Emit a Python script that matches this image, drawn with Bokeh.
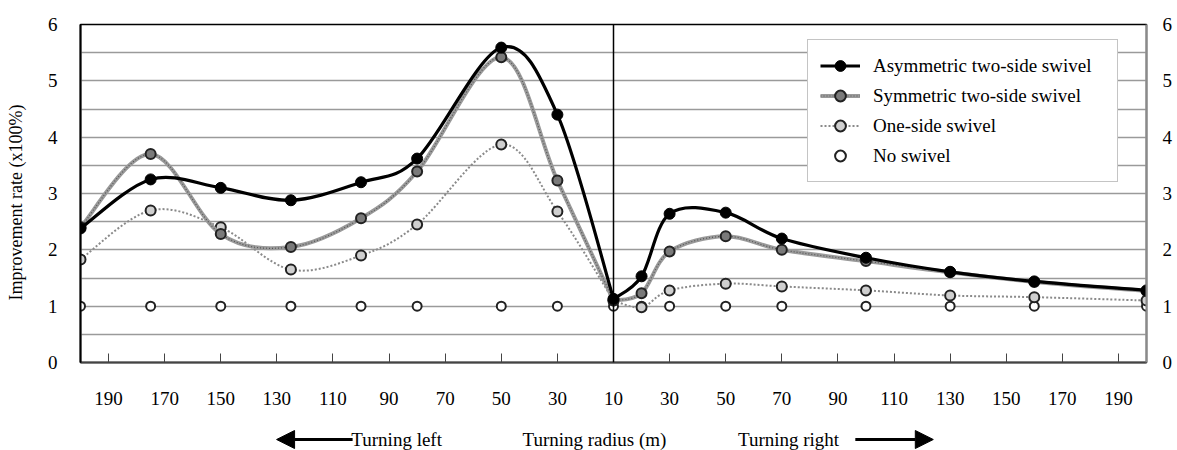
import numpy as np
from bokeh.plotting import figure
from bokeh.layouts import column
from bokeh.models import (Range1d, LinearAxis, FixedTicker, Span, Legend, LegendItem,
                          Arrow, NormalHead)
from bokeh.core.properties import value
from bokeh.embed import file_html
from bokeh.resources import INLINE

# ---------------- data ----------------
# turning radius (m); "L" = turning left, "C" = 10 m (shared), "R" = turning right
radius = [200, 175, 150, 125, 100, 80, 50, 30, 10, 20, 30, 50, 70, 100, 130, 160, 200]
side = ["L"] * 8 + ["C"] + ["R"] * 8

asymmetric = [2.38, 3.25, 3.10, 2.88, 3.20, 3.62, 5.59, 4.40, 1.13,
              1.53, 2.64, 2.66, 2.20, 1.86, 1.61, 1.44, 1.28]
symmetric = [2.40, 3.70, 2.28, 2.05, 2.56, 3.39, 5.42, 3.23, 1.10,
             1.23, 1.97, 2.24, 2.00, 1.80, 1.60, 1.43, 1.27]
one_side = [1.83, 2.70, 2.40, 1.65, 1.90, 2.45, 3.87, 2.68, 1.10,
            0.98, 1.28, 1.40, 1.35, 1.28, 1.19, 1.16, 1.10]
no_swivel = [1.0] * 17

tick_labels_left = [190, 170, 150, 130, 110, 90, 70, 50, 30, 10]
tick_labels_right = [30, 50, 70, 90, 110, 130, 150, 170, 190]
y_ticks = [0, 1, 2, 3, 4, 5, 6]

# ---------------- mapping ----------------
def pos(r, s):
    if s == "L":
        return -(r - 10)
    if s == "R":
        return r - 10
    return 0.0

x = np.array([pos(r, s) for r, s in zip(radius, side)], dtype=float)
centre = side.index("C")

def smooth_part(xs, ys):
    xs = np.asarray(xs, float)
    ys = np.asarray(ys, float)
    n = len(xs)
    xp = np.concatenate([[xs[0]], xs, [xs[-1]]])
    yp = np.concatenate([[ys[0]], ys, [ys[-1]]])
    return dict(x0=xs[:-1], y0=ys[:-1], x1=xs[1:], y1=ys[1:],
                cx0=xs[:-1] + (xp[2:n + 1] - xp[0:n - 1]) / 6.0,
                cy0=ys[:-1] + (yp[2:n + 1] - yp[0:n - 1]) / 6.0,
                cx1=xs[1:] - (xp[3:n + 2] - xp[1:n]) / 6.0,
                cy1=ys[1:] - (yp[3:n + 2] - yp[1:n]) / 6.0)

def smooth_segments(xs, ys):
    ys = np.asarray(ys, float)
    a = smooth_part(xs[:centre + 1], ys[:centre + 1])   # turning left branch
    b = smooth_part(xs[centre:], ys[centre:])           # turning right branch
    return {k: np.concatenate([a[k], b[k]]) for k in a}

FONT = "Liberation Serif"
FS = "19px"

W = 1175
x_range = Range1d(-190, 190)

p = figure(width=W, height=410, output_backend="svg", toolbar_location=None,
           x_range=x_range, y_range=Range1d(0, 6),
           min_border_left=80, min_border_right=29, min_border_top=24, min_border_bottom=48)
p.background_fill_color = "white"
p.border_fill_color = "white"
p.outline_line_color = "black"
p.outline_line_width = 1.5

# grid
p.xgrid.visible = False
p.ygrid.ticker = FixedTicker(ticks=list(np.arange(0.5, 6.0, 0.5)))
p.ygrid.grid_line_color = "#9a9a9a"
p.ygrid.grid_line_width = 1.3

# x axis
tick_pos = [pos(r, "L") for r in tick_labels_left] + [pos(r, "R") for r in tick_labels_right]
tick_txt = [str(r) for r in tick_labels_left] + [str(r) for r in tick_labels_right]
xa = p.xaxis[0]
xa.ticker = FixedTicker(ticks=tick_pos)
xa.major_label_overrides = {t: s for t, s in zip(tick_pos, tick_txt)}
xa.major_tick_in = 9
xa.major_tick_out = 0
xa.major_tick_line_color = "#444444"
xa.major_tick_line_width = 1
xa.minor_tick_line_color = None
xa.axis_line_color = "#444444"
xa.axis_line_width = 2
xa.major_label_standoff = 29
xa.major_label_text_font = FONT
xa.major_label_text_font_size = FS
xa.major_label_text_color = "black"

# y axis (left)
ya = p.yaxis[0]
ya.ticker = FixedTicker(ticks=y_ticks)
ya.major_tick_in = 0
ya.major_tick_out = 0
ya.minor_tick_line_color = None
ya.axis_line_color = "black"
ya.axis_line_width = 2
ya.major_label_standoff = 23
ya.major_label_text_font = FONT
ya.major_label_text_font_size = FS
ya.major_label_text_color = "black"
ya.axis_label = "Improvement rate (x100%)" + "\u00a0" * 4
ya.axis_label_text_font = FONT
ya.axis_label_text_font_size = "18px"
ya.axis_label_text_font_style = "normal"
ya.axis_label_text_color = "black"
ya.axis_label_standoff = 19

# y axis (right)
ra = LinearAxis(ticker=FixedTicker(ticks=y_ticks))
ra.major_tick_in = 0
ra.major_tick_out = 0
ra.minor_tick_line_color = None
ra.axis_line_color = "#8a8a8a"
ra.axis_line_width = 2
ra.major_label_standoff = 16
ra.major_label_text_font = FONT
ra.major_label_text_font_size = FS
ra.major_label_text_color = "black"
p.add_layout(ra, "right")

# centre line at 10 m
p.add_layout(Span(location=0, dimension="height", line_color="black", line_width=1.5))

# ---------------- series ----------------
r_no = p.scatter(x, no_swivel, marker="circle", size=9, fill_color="white",
                 line_color="#222222", line_width=2)

s1 = smooth_segments(x, one_side)
r_one_l = p.bezier(line_color="#8a8a8a", line_width=2, line_dash="2 2", **s1)
r_one_m = p.scatter(x, one_side, marker="circle", size=10, fill_color="#cfcfcf",
                    line_color="#222222", line_width=2)

s2 = smooth_segments(x, symmetric)
r_sym_l = p.bezier(line_color="#9a9a9a", line_width=4, **s2)
r_sym_d = p.bezier(line_color="#555555", line_width=1.2, line_dash="1 2", **s2)
r_sym_m = p.scatter(x, symmetric, marker="circle", size=10, fill_color="#7a7a7a",
                    line_color="#222222", line_width=2)

s3 = smooth_segments(x, asymmetric)
r_asy_l = p.bezier(line_color="black", line_width=3.2, **s3)
r_asy_m = p.scatter(x, asymmetric, marker="circle", size=11, fill_color="black",
                    line_color="black", line_width=1)

legend = Legend(items=[
    LegendItem(label="Asymmetric two-side swivel", renderers=[r_asy_l, r_asy_m]),
    LegendItem(label="Symmetric two-side swivel", renderers=[r_sym_l, r_sym_d, r_sym_m]),
    LegendItem(label="One-side swivel", renderers=[r_one_l, r_one_m]),
    LegendItem(label="No swivel", renderers=[r_no]),
], location=(727, 180))
legend.label_text_font = FONT
legend.label_text_font_size = FS
legend.label_text_color = "black"
legend.glyph_width = 40
legend.glyph_height = 27
legend.label_height = 27
legend.label_width = 232
legend.label_standoff = 13
legend.spacing = 3
legend.padding = 12
legend.margin = 0
legend.border_line_color = "#8a8a8a"
legend.border_line_width = 1.3
legend.background_fill_color = "white"
legend.background_fill_alpha = 1
p.add_layout(legend)

# ---------------- bottom strip: direction captions ----------------
q = figure(width=W, height=40, output_backend="svg", toolbar_location=None,
           x_range=x_range, y_range=Range1d(0, 40),
           x_axis_location=None, y_axis_location=None,
           min_border_left=80, min_border_right=29, min_border_top=0, min_border_bottom=0)
q.grid.visible = False
q.outline_line_color = None
q.background_fill_color = "white"
q.border_fill_color = "white"

cap_text = ["Turning left", "Turning radius (m)", "Turning right"]
cap_x = [-77.3, -6.8, 62.4]
q.text(x=cap_x, y=[11] * 3, text=cap_text, text_align="center", text_baseline="middle",
       text_font=value(FONT), text_font_size=FS, text_color="black")

for xs_, xe_ in [(-93.0, -120.1), (86.2, 114.0)]:
    q.add_layout(Arrow(x_start=xs_, y_start=11, x_end=xe_, y_end=11,
                       line_color="black", line_width=3,
                       end=NormalHead(size=18, fill_color="black", line_color="black")))

layout = column(p, q, spacing=0)
open("out.html", "w").write(file_html(layout, INLINE))
